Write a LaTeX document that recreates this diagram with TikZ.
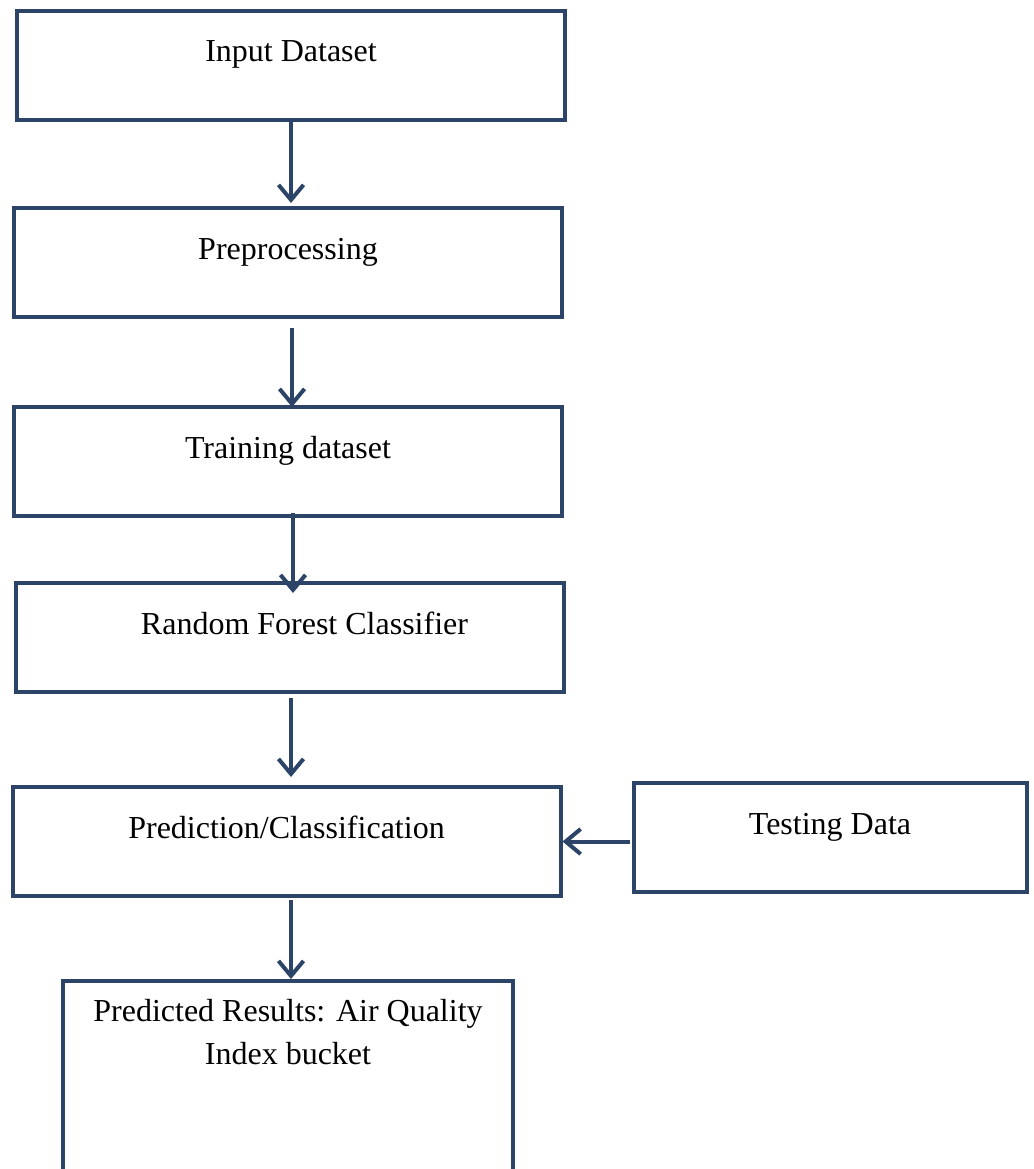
\documentclass[tikz,border=0pt]{standalone}
\usepackage{fontspec}
\setmainfont{Liberation Serif}
\usetikzlibrary{arrows.meta,positioning}
\definecolor{boxline}{HTML}{2B4468}

\begin{document}
\begin{tikzpicture}[x=1pt, y=-1pt,
  box/.style={rectangle, draw=boxline, line width=4pt, minimum width=548pt,
              inner sep=0pt, text height=51pt, text depth=58pt,
              align=center, font=\fontsize{32}{43}\selectfont, text=black},
  arrow/.style={-{Straight Barb[length=15pt, width=25pt]}, draw=boxline,
                line width=4pt},
  node distance=84pt
]
  \useasboundingbox (0,0) rectangle (1033,1169);

  \node[box, anchor=north] (input) at (291,9) {Input Dataset};
  \node[box, below=84pt of input, xshift=-3pt] (prep) {Preprocessing};
  \node[box, below=86pt of prep] (train) {Training dataset};
  \node[box, below=63pt of train, xshift=1.5pt] (rfc) {\hspace*{30pt}Random Forest Classifier};
  \node[box, below=91pt of rfc, xshift=-3pt] (pred) {Prediction/Classification};
  \node[box, minimum width=393pt, right=69pt of pred, yshift=4pt] (test) {Testing Data};
  \node[box, minimum width=450pt, text height=83pt, text depth=180pt,
        below=81pt of pred, xshift=1.5pt] (result)
        {Predicted Results: Air Quality\\Index bucket};

  \draw[arrow, shorten <=-2pt, shorten >=3pt] (input.south) -- (input.south |- prep.north);
  \draw[arrow, shorten <=9pt, shorten >=-2pt] ([xshift=4pt]prep.south) -- ([xshift=4pt]prep.south |- train.north);
  \draw[arrow, shorten <=-5pt, shorten >=-12pt] ([xshift=5pt]train.south) -- ([xshift=5pt]train.south |- rfc.north);
  \draw[arrow, shorten <=4pt, shorten >=8pt] ([xshift=1.5pt]rfc.south) -- ([xshift=1.5pt]rfc.south |- pred.north);
  \draw[arrow, shorten <=2pt, shorten >=0pt] ([xshift=4.5pt]pred.south) -- ([xshift=4.5pt]pred.south |- result.north);
  \draw[arrow, shorten <=2pt, shorten >=0pt] (test.west |- pred.east) -- (pred.east);
\end{tikzpicture}
\end{document}
